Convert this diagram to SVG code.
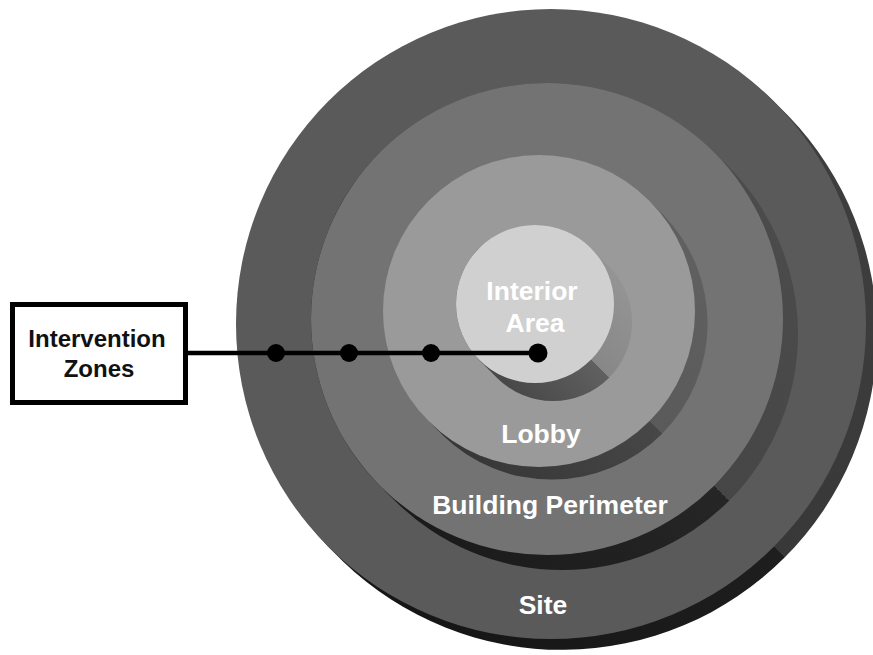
<svg xmlns="http://www.w3.org/2000/svg" width="873" height="655" viewBox="0 0 873 655">
<style>
.lbl{font-family:"Liberation Sans",Arial,sans-serif;font-weight:bold;font-size:26.5px;fill:#ffffff;text-anchor:middle}
.box{font-family:"Liberation Sans",Arial,sans-serif;font-weight:bold;font-size:24px;fill:#111111;text-anchor:middle}
.dot{fill:#000000}
</style>
<defs>
<linearGradient id="gSite" x1="1" y1="0" x2="0" y2="1">
<stop offset="0" stop-color="#404040"/><stop offset="0.5" stop-color="#383838"/>
<stop offset="0.5" stop-color="#1e1e1e"/><stop offset="1" stop-color="#121212"/>
</linearGradient>
<linearGradient id="gBuild" x1="1" y1="0" x2="0" y2="1">
<stop offset="0" stop-color="#4e4e4e"/><stop offset="0.5" stop-color="#464646"/>
<stop offset="0.5" stop-color="#262626"/><stop offset="1" stop-color="#161616"/>
</linearGradient>
<linearGradient id="gLobby" x1="1" y1="0" x2="0" y2="1">
<stop offset="0" stop-color="#636363"/><stop offset="0.5" stop-color="#5a5a5a"/>
<stop offset="0.5" stop-color="#474747"/><stop offset="1" stop-color="#303030"/>
</linearGradient>
<linearGradient id="gInt" x1="1" y1="0" x2="0" y2="1">
<stop offset="0" stop-color="#9c9c9c"/><stop offset="0.5" stop-color="#878787"/>
<stop offset="0.5" stop-color="#606060"/><stop offset="1" stop-color="#3a3a3a"/>
</linearGradient>
</defs>
<rect width="873" height="655" fill="#ffffff"/>

<g id="site">
<path d="M773.7,101.3 L788.7,116.3 A315,315 0 0 1 343.3,561.7 L328.3,546.7 A315,315 0 0 1 773.7,101.3 Z" fill="url(#gSite)"/>
<circle cx="551" cy="324" r="315" fill="#5a5a5a"/>
<text class="lbl" x="543" y="614">Site</text>
</g>

<g id="building-perimeter">
<path d="M713.9,152.1 L728.9,167.1 A236,236 0 0 1 395.1,500.9 L380.1,485.9 A236,236 0 0 1 713.9,152.1 Z" fill="url(#gBuild)"/>
<circle cx="547" cy="319" r="236" fill="#737373"/>
<text class="lbl" x="550" y="514">Building Perimeter</text>
</g>

<g id="lobby">
<path d="M649.3,200.7 L663.3,214.7 A156,156 0 0 1 442.7,435.3 L428.7,421.3 A156,156 0 0 1 649.3,200.7 Z" fill="url(#gLobby)"/>
<circle cx="539" cy="311" r="156" fill="#9a9a9a"/>
<text class="lbl" x="541" y="443">Lobby</text>
</g>

<g id="interior-area">
<path d="M590.9,248.1 L608.9,266.1 A79,79 0 0 1 497.1,377.9 L479.1,359.9 A79,79 0 0 1 590.9,248.1 Z" fill="url(#gInt)"/>
<circle cx="535" cy="304" r="79" fill="#d0d0d0"/>
<text class="lbl" x="532" y="300">Interior</text>
<text class="lbl" x="535" y="332">Area</text>
</g>

<g id="intervention-zones">
<rect x="12.5" y="304.5" width="173" height="98" fill="#ffffff" stroke="#000000" stroke-width="5"/>
<text class="box" x="97" y="347">Intervention</text>
<text class="box" x="99" y="377">Zones</text>
</g>

<g id="connectors">
<line x1="188" y1="353" x2="538" y2="353" stroke="#000000" stroke-width="4.5"/>
<circle class="dot" cx="276" cy="353" r="9"/>
<circle class="dot" cx="349" cy="353" r="9"/>
<circle class="dot" cx="431" cy="353" r="9"/>
<circle class="dot" cx="538" cy="353" r="9.5"/>
</g>
</svg>
